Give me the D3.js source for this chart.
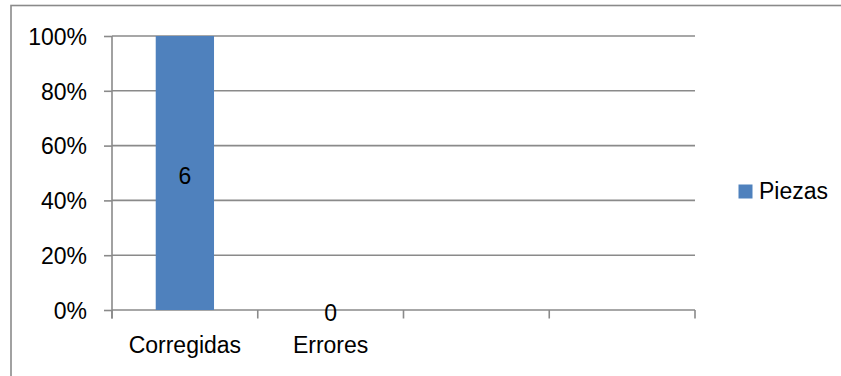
<!DOCTYPE html>
<html>
<head>
<meta charset="utf-8">
<script src="https://cdn.jsdelivr.net/npm/d3@7"></script>
<style>
  html, body { margin: 0; padding: 0; background: #fff; }
  svg { display: block; }
  text { font-family: "Liberation Sans", Arial, sans-serif; fill: #000; }
</style>
</head>
<body>
<svg id="chart" width="841" height="376"></svg>
<script>
// Pieces per category (100% stacked column, single series)
const categories = ["Corregidas", "Errores", "", ""];
const piezas = [6, 0, null, null];
const seriesName = "Piezas";
const yTicks = [0, 0.2, 0.4, 0.6, 0.8, 1];

const W = 841, H = 376;
const margin = { left: 112, right: 146, top: 36, bottom: 66 };
const plotW = W - margin.left - margin.right;
const plotH = H - margin.top - margin.bottom;
const FONT = 23;
const GRID = "#8a8a8a";
const BAR = "#4f81bd";

const svg = d3.select("#chart");

// chart area frame
svg.append("rect")
  .attr("x", 11).attr("y", 5.5)
  .attr("width", W + 20).attr("height", H + 20)
  .attr("fill", "#fff").attr("stroke", GRID).attr("stroke-width", 1.6);

const g = svg.append("g").attr("transform", `translate(${margin.left},${margin.top})`);

const x = d3.scaleBand().domain(d3.range(categories.length)).range([0, plotW]).paddingInner(0).paddingOuter(0);
const y = d3.scaleLinear().domain([0, 1]).range([plotH, 0]);

// share of each category held by the series (100% stacked)
const share = piezas.map(v => (v == null ? null : (v > 0 ? v / d3.sum([v]) : 0)));

// horizontal gridlines
g.append("g").selectAll("line").data(yTicks).join("line")
  .attr("x1", 0).attr("x2", plotW)
  .attr("y1", d => y(d)).attr("y2", d => y(d))
  .attr("stroke", GRID).attr("stroke-width", 1.6);

// y axis
const yAxis = d3.axisLeft(y).tickValues(yTicks).tickFormat(d3.format(".0%"))
  .tickSize(8).tickPadding(17);
const yg = g.append("g").call(yAxis);
yg.select(".domain").remove();
yg.selectAll(".tick line").attr("stroke", GRID).attr("stroke-width", 1.6);
yg.selectAll(".tick text").attr("font-size", FONT).attr("font-family", null).attr("dy", "0.36em");
g.append("line").attr("x1", 0).attr("x2", 0).attr("y1", 0).attr("y2", plotH + 8.5)
  .attr("stroke", GRID).attr("stroke-width", 1.6);

// category boundary ticks
const bounds = d3.range(categories.length + 1).map(i => i * x.step());
g.append("g").selectAll("line").data(bounds).join("line")
  .attr("x1", d => d).attr("x2", d => d)
  .attr("y1", plotH).attr("y2", plotH + 8.5)
  .attr("stroke", GRID).attr("stroke-width", 1.6);

// category labels
g.append("g").selectAll("text").data(categories).join("text")
  .attr("x", (d, i) => x(i) + x.bandwidth() / 2)
  .attr("y", plotH + 43)
  .attr("text-anchor", "middle")
  .attr("font-size", FONT)
  .text(d => d);

// bars
const barW = x.bandwidth() * 0.4;
const idx = d3.range(categories.length).filter(i => share[i] != null);
g.append("g").selectAll("rect").data(idx).join("rect")
  .attr("x", i => x(i) + (x.bandwidth() - barW) / 2)
  .attr("width", barW)
  .attr("y", i => y(share[i]))
  .attr("height", i => y(0) - y(share[i]))
  .attr("fill", BAR);

// value labels, centred in each bar
g.append("g").selectAll("text").data(idx).join("text")
  .attr("x", i => x(i) + x.bandwidth() / 2)
  .attr("y", i => (y(share[i]) + y(0)) / 2)
  .attr("dy", "0.47em")
  .attr("text-anchor", "middle")
  .attr("font-size", FONT)
  .text(i => piezas[i]);

// legend
const lg = svg.append("g").attr("transform", "translate(738.5,184.5)");
lg.append("rect").attr("width", 14).attr("height", 14).attr("fill", BAR);
lg.append("text").attr("x", 20.5).attr("y", 14).attr("font-size", FONT).text(seriesName);
</script>
</body>
</html>
